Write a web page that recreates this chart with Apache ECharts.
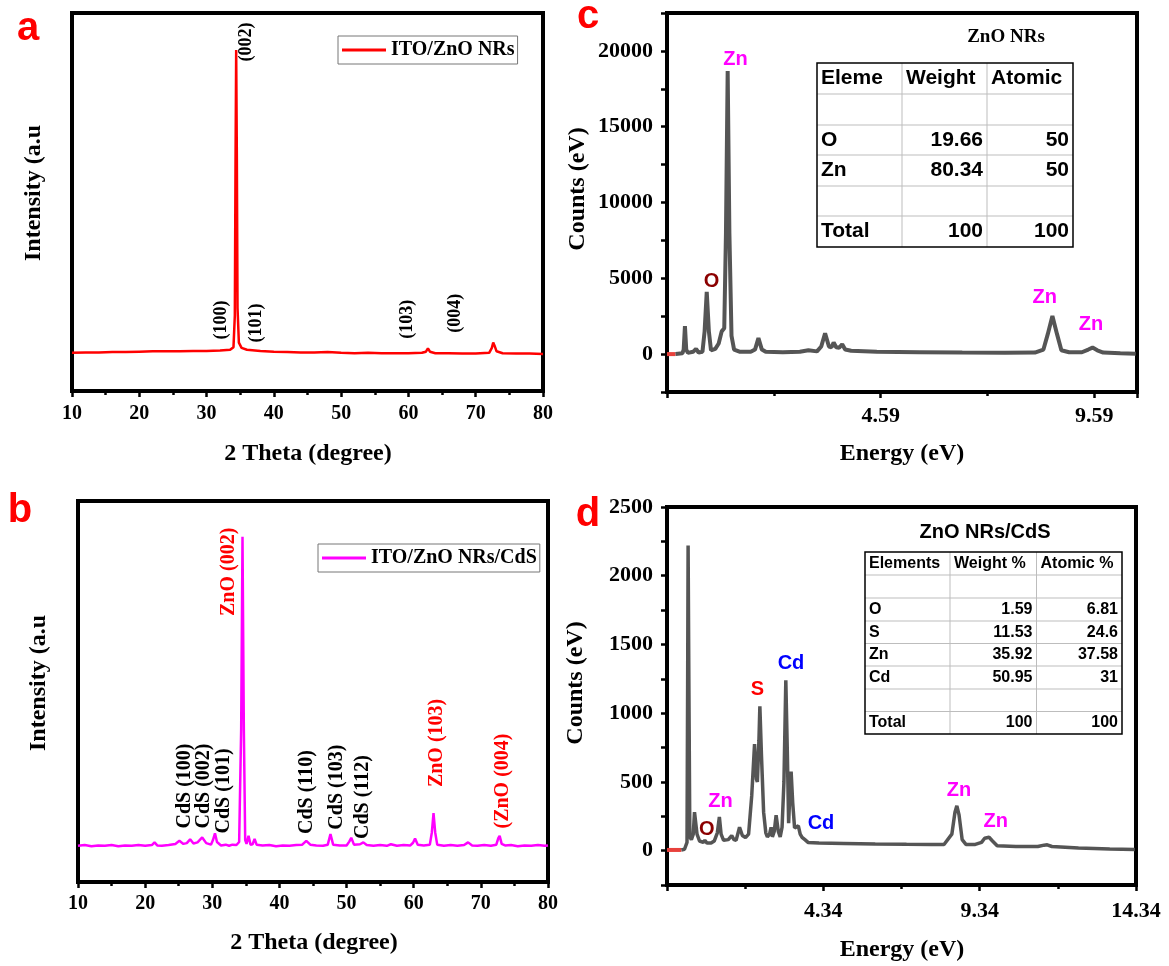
<!DOCTYPE html>
<html>
<head>
<meta charset="utf-8">
<script src="https://cdn.jsdelivr.net/npm/echarts@6/dist/echarts.min.js"></script>
<style>
html,body{margin:0;padding:0;background:#fff;}
#chart{width:1169px;height:966px;}
</style>
</head>
<body>
<div id="chart"></div>
<script>
// ---- data ----
// (a) XRD ITO/ZnO NRs : [2theta, intensity a.u.]
const xrdA = [[10,10.1],[12,10.2],[14,10.2],[16,10.3],[18,10.3],[20,10.4],[22,10.5],[24,10.5],[26,10.5],[28,10.6],[30,10.6],[32,10.7],
  [33.5,10.9],[34.0,11.6],[34.2,20],[34.3,60],[34.4,90.2],[34.5,62],[34.6,22],[34.8,12.8],[35.2,11.4],[36,10.9],[38,10.6],[40,10.4],
  [42,10.3],[44,10.2],[46,10.2],[48,10.3],[50,10.1],[52,10.0],[54,10.1],[56,10.0],[58,10.0],[60,10.0],[62,10.1],[62.6,10.4],
  [62.9,11.3],[63.2,10.4],[64,10.0],[66,10.0],[68,9.9],[70,9.9],[72,10.1],[72.4,11.4],[72.6,12.8],[72.8,12.0],[73.1,10.5],
  [74,10.0],[76,9.9],[78,9.9],[80,9.8]];
// (b) XRD ITO/ZnO NRs/CdS
const xrdB = [[10,9.5],[11,9.7],[12,9.4],[13,9.6],[14,9.5],[15,9.7],[16,9.4],[17,9.6],[18,9.5],[19,9.7],[20,9.5],[21,9.7],
  [21.4,10.4],[21.8,9.6],[22.5,9.5],[23.5,9.7],[24.5,10.0],[25.1,10.8],[25.7,10.0],[26.2,10.2],[26.7,11.2],[27.2,10.1],[27.8,10.4],
  [28.5,11.7],[29.1,10.2],[29.8,9.8],[30.1,11.0],[30.4,12.8],[30.7,10.5],[31.3,9.6],[32,9.8],[32.5,9.5],[33,9.8],[33.6,9.7],
  [34.0,10.5],[34.3,40],[34.5,90.6],[34.7,40],[34.9,11],[35.1,10.0],[35.4,12.1],[35.7,9.8],[36.0,9.9],[36.3,11.3],[36.6,9.8],
  [37.5,9.6],[38.5,9.7],[39.5,9.4],[40.5,9.6],[41.5,9.5],[42.5,9.7],[43.4,9.8],[44.0,10.8],[44.6,9.8],[45.5,9.6],[46.5,9.5],
  [47.2,9.8],[47.6,12.6],[48.0,9.8],[49,9.6],[50.0,9.6],[50.4,10.6],[50.7,11.6],[51.1,9.8],[52.0,9.9],[52.5,10.4],[53.0,9.7],
  [54,9.5],[55,9.7],[56,9.5],[56.6,9.9],[57.5,9.5],[58.5,9.7],[59.5,9.6],[59.9,10.3],[60.2,11.4],[60.6,9.8],[61.5,9.6],[62.4,9.8],
  [62.7,13],[62.95,18.1],[63.2,13],[63.5,9.8],[64.5,9.5],[65.5,9.7],[66.5,9.5],[67.5,9.7],[68.1,10.4],[68.7,9.6],[69.5,9.5],
  [70.5,9.7],[71.5,9.5],[72.3,9.8],[72.6,11.5],[72.8,12.1],[73.1,10.0],[73.6,9.6],[74.5,9.7],[75.5,9.4],[76.5,9.6],[77.5,9.5],
  [78.5,9.7],[79.5,9.5],[80,9.6]];
// (c) EDX ZnO NRs : [energy, counts]
const edxCStart = [[-0.41,0],[-0.21,0]];
const edxC = [[-0.21,0],[-0.05,50],[-0.02,300],[0.01,1850],[0.04,300],[0.08,80],[0.2,150],[0.27,350],[0.33,100],[0.42,150],
  [0.47,1500],[0.52,4100],[0.57,1500],[0.62,250],[0.72,350],[0.8,700],[0.87,1500],[0.93,1700],[0.97,8000],[1.01,18680],
  [1.05,8000],[1.1,1200],[1.16,300],[1.3,150],[1.55,150],[1.65,300],[1.73,1050],[1.81,300],[1.9,150],[2.3,120],[2.7,150],
  [2.9,250],[3.1,180],[3.2,500],[3.29,1380],[3.38,500],[3.44,450],[3.49,760],[3.55,450],[3.62,420],[3.69,650],[3.76,300],
  [3.9,220],[4.5,160],[5.5,130],[6.5,100],[7.5,90],[8.2,100],[8.4,300],[8.5,1300],[8.61,2520],[8.72,1300],[8.82,250],
  [9.0,120],[9.3,120],[9.45,300],[9.55,430],[9.66,250],[9.8,100],[10.2,60],[10.56,30]];
// (d) EDX ZnO NRs/CdS
const edxDStart = [[-0.66,5],[-0.2,5]];
const edxD = [[-0.2,5],[-0.1,10],[-0.02,60],[0.0,1200],[0.015,2220],[0.04,1200],[0.07,100],[0.12,80],[0.18,120],[0.22,280],
  [0.26,290],[0.3,120],[0.38,70],[0.5,60],[0.55,75],[0.62,55],[0.75,55],[0.85,70],[0.95,130],[1.015,245],[1.07,120],[1.15,75],
  [1.3,80],[1.41,110],[1.48,80],[1.55,75],[1.66,170],[1.75,110],[1.85,95],[1.95,120],[2.05,400],[2.14,775],[2.2,520],[2.23,500],
  [2.28,800],[2.31,1050],[2.36,700],[2.43,280],[2.5,130],[2.55,100],[2.62,120],[2.67,170],[2.71,100],[2.77,140],[2.83,258],
  [2.9,140],[2.96,100],[3.02,170],[3.08,500],[3.14,1240],[3.19,700],[3.23,200],[3.27,420],[3.31,575],[3.36,350],[3.42,165],
  [3.48,160],[3.54,180],[3.6,120],[3.66,97],[3.75,80],[3.85,60],[4.2,55],[5,52],[6,48],[7,46],[7.8,45],[8.2,45],[8.45,120],
  [8.55,280],[8.61,326],[8.68,260],[8.78,80],[8.9,45],[9.2,45],[9.4,60],[9.5,90],[9.64,97],[9.75,70],[9.9,35],[10.5,30],
  [11.2,30],[11.4,40],[11.5,42],[11.65,30],[12.5,20],[13.5,12],[14.3,8]];

// tick labels
const thetaTicks = ['10','20','30','40','50','60','70','80'];
const cEnergyTicks = ['4.59','9.59'];
const dEnergyTicks = ['4.34','9.34','14.34'];
const cCountTicks = ['0','5000','10000','15000','20000'];
const dCountTicks = ['0','500','1000','1500','2000','2500'];

// peak annotations [text, x, y] in data units
const aPeakLabels = [['(002)',35.86,92.3],['(100)',32.14,18.8],['(101)',37.34,18.0],['(103)',59.79,19.0],['(004)',66.92,20.6]];
const bZnoLabels = [['ZnO (002)',32.43,81.4],['ZnO (103)',63.4,36.5],['(ZnO (004)',73.3,26.5]];
const bCdsLabels = [['CdS (100)',25.94,25.2],['CdS (002)',28.77,25.2],['CdS (101)',31.75,23.9],
  ['CdS (110)',44.1,23.6],['CdS (103)',48.6,24.9],['CdS (112)',52.4,22.3]];
const cElementLabels = [['O',0.631,4822],['Zn',1.193,19466],['Zn',8.429,3766],['Zn',9.513,1985]];
const dElementLabels = [['Zn',1.048,356],['O',0.613,157],['S',2.228,1169],['Cd',3.305,1358],['Cd',4.265,201],
  ['Zn',8.678,436],['Zn',9.852,211]];

// composition tables
const cTableHead = ['Eleme','Weight','Atomic'];
const cTableRows = [['','',''],['O','19.66','50'],['Zn','80.34','50'],['','',''],['Total','100','100']];
const dTableHead = ['Elements','Weight %','Atomic %'];
const dTableRows = [['','',''],['O','1.59','6.81'],['S','11.53','24.6'],['Zn','35.92','37.58'],['Cd','50.95','31'],
  ['','',''],['Total','100','100']];

// ---- chart ----
const SERIF = 'Liberation Serif';
const SANS = 'Liberation Sans';
const elemColor = {O:'#8b0000', Zn:'#ff00ff', S:'#ff0000', Cd:'#0000ff'};

const chart = echarts.init(document.getElementById('chart'));

function pick(labels){
  return v => {
    const s = labels.find(l => Math.abs(parseFloat(l) - v) < 1e-6);
    return s === undefined ? '' : s;
  };
}

function xAxisOf(grid, min, max, interval, labels, size, margin){
  return {
    type:'value', gridIndex:grid, min:min, max:max, interval:interval,
    axisLine:{show:true, onZero:false, lineStyle:{color:'#000', width:4}},
    axisTick:{show:true, inside:false, length:6, lineStyle:{color:'#000', width:2.5}},
    minorTick:{show:true, splitNumber:2, length:4, lineStyle:{color:'#000', width:2.5}},
    splitLine:{show:false}, minorSplitLine:{show:false},
    axisLabel:{show:true, margin:margin, color:'#000', fontFamily:SERIF, fontWeight:'bold', fontSize:size,
      showMinLabel:true, showMaxLabel:true, formatter:pick(labels)}
  };
}

function yAxisOf(grid, min, max, interval, labels){
  const shown = labels.length > 0;
  return {
    type:'value', gridIndex:grid, min:min, max:max, interval:interval,
    axisLine:{show:true, onZero:false, lineStyle:{color:'#000', width:4}},
    axisTick:{show:shown, inside:false, length:6, lineStyle:{color:'#000', width:2.5}},
    splitLine:{show:false},
    axisLabel:{show:shown, margin:14, color:'#000', fontFamily:SERIF, fontWeight:'bold', fontSize:22,
      showMinLabel:true, showMaxLabel:true, formatter:pick(labels)}
  };
}

function txt(text, x, y, font, size, color, rot, align){
  const a = align || 'center';
  return {type:'text', x:x, y:y, rotation:rot || 0, silent:true,
    style:{text:text, fill:color, fontFamily:font, fontWeight:'bold', fontSize:size,
      align:a, verticalAlign:'middle', textAlign:a, textVerticalAlign:'middle'}};
}

function seg(x1, y1, x2, y2, color, w){
  return {type:'line', silent:true, shape:{x1:x1, y1:y1, x2:x2, y2:y2}, style:{stroke:color, lineWidth:w}};
}

function tableEls(cols, rowsY, head, rows, size){
  const els = [];
  const x0 = cols[0], x1 = cols[cols.length - 1], y0 = rowsY[0], y1 = rowsY[rowsY.length - 1];
  for (let i = 1; i < rowsY.length - 1; i++) els.push(seg(x0, rowsY[i], x1, rowsY[i], '#bdbdbd', 1));
  for (let j = 1; j < cols.length - 1; j++) els.push(seg(cols[j], y0, cols[j], y1, '#bdbdbd', 1));
  els.push({type:'rect', silent:true, shape:{x:x0, y:y0, width:x1 - x0, height:y1 - y0},
    style:{fill:'none', stroke:'#000', lineWidth:1.5}});
  [head].concat(rows).forEach((r, i) => {
    const cy = (rowsY[i] + rowsY[i + 1]) / 2;
    r.forEach((t, j) => {
      if (!t) return;
      const left = i === 0 || j === 0;
      els.push(txt(t, left ? cols[j] + 4 : cols[j + 1] - 4, cy, SANS, size, '#000', 0, left ? 'left' : 'right'));
    });
  });
  return els;
}

function lineSeries(name, x, data, color, width){
  return {type:'line', name:name, xAxisIndex:x, yAxisIndex:x, data:data, symbol:'none', showSymbol:false,
    lineStyle:{color:color, width:width}, itemStyle:{color:color}, z:3};
}

const staticEls = [
  txt('a', 28, 29, SANS, 40, '#ff0000'),
  txt('b', 20, 511, SANS, 40, '#ff0000'),
  txt('c', 588, 17, SANS, 40, '#ff0000'),
  txt('d', 588, 515, SANS, 40, '#ff0000'),
  txt('2 Theta (degree)', 308, 454, SERIF, 24, '#000'),
  txt('2 Theta (degree)', 314, 943, SERIF, 24, '#000'),
  txt('Energy (eV)', 902, 454, SERIF, 24, '#000'),
  txt('Energy (eV)', 902, 950, SERIF, 24, '#000'),
  txt('Intensity (a.u', 34, 193, SERIF, 24, '#000', Math.PI / 2),
  txt('Intensity (a.u', 39, 683, SERIF, 24, '#000', Math.PI / 2),
  txt('Counts (eV)', 578, 189, SERIF, 24, '#000', Math.PI / 2),
  txt('Counts (eV)', 576, 683, SERIF, 24, '#000', Math.PI / 2),
  txt('ZnO NRs', 1006, 37, SERIF, 19, '#000'),
  txt('ZnO NRs/CdS', 985, 532, SANS, 20, '#000')
].concat(
  tableEls([817, 902, 987, 1073], [63, 94, 125, 155, 186, 216, 247], cTableHead, cTableRows, 21),
  tableEls([865, 950, 1036.5, 1122], [552, 575, 598, 621, 643.5, 666, 689, 711.5, 734], dTableHead, dTableRows, 16)
);

const legendBase = {orient:'horizontal', icon:'rect', itemWidth:44, itemHeight:3, selectedMode:false,
  borderColor:'#777', borderWidth:1, padding:[4, 3, 4, 4],
  textStyle:{fontFamily:SERIF, fontWeight:'bold', fontSize:20, color:'#000'}};

chart.setOption({
  animation:false,
  backgroundColor:'#fff',
  grid:[
    {left:72, top:13, width:471, height:378, show:true, borderColor:'#000', borderWidth:4, backgroundColor:'transparent'},
    {left:78, top:501, width:470, height:381, show:true, borderColor:'#000', borderWidth:4, backgroundColor:'transparent'},
    {left:667, top:13, width:470, height:379, show:true, borderColor:'#000', borderWidth:4, backgroundColor:'transparent'},
    {left:667, top:507, width:469, height:378, show:true, borderColor:'#000', borderWidth:4, backgroundColor:'transparent'}
  ],
  xAxis:[
    xAxisOf(0, 10, 80, 10, thetaTicks, 20, 13),
    xAxisOf(1, 10, 80, 10, thetaTicks, 20, 12),
    xAxisOf(2, -0.41, 10.59, 5, cEnergyTicks, 22, 13),
    xAxisOf(3, -0.66, 14.34, 5, dEnergyTicks, 22, 15)
  ],
  yAxis:[
    yAxisOf(0, 0, 100, 10, []),
    yAxisOf(1, 0, 100, 10, []),
    yAxisOf(2, -2500, 22500, 2500, cCountTicks),
    yAxisOf(3, -250, 2500, 250, dCountTicks)
  ],
  legend:[
    Object.assign({}, legendBase, {data:['ITO/ZnO NRs'], left:338, top:36}),
    Object.assign({}, legendBase, {data:['ITO/ZnO NRs/CdS'], left:318, top:544})
  ],
  series:[
    lineSeries('ITO/ZnO NRs', 0, xrdA, '#ff0000', 2.5),
    lineSeries('ITO/ZnO NRs/CdS', 1, xrdB, '#ff00ff', 2.5),
    lineSeries('c start', 2, edxCStart, '#e8413c', 4),
    lineSeries('ZnO NRs', 2, edxC, '#555555', 4),
    lineSeries('d start', 3, edxDStart, '#e8413c', 4),
    lineSeries('ZnO NRs/CdS', 3, edxD, '#555555', 3.5)
  ],
  graphic:{elements:staticEls}
});

// place the peak annotations through the axes' own scales
const ann = [];
function place(list, grid, font, size, colorOf, rot){
  list.forEach(([t, x, y]) => {
    const p = chart.convertToPixel({gridIndex:grid}, [x, y]);
    ann.push(txt(t, p[0], p[1], font, size, colorOf(t), rot));
  });
}
place(aPeakLabels, 0, SERIF, 18, () => '#000', Math.PI / 2);
place(bZnoLabels, 1, SERIF, 20, () => '#ff0000', Math.PI / 2);
place(bCdsLabels, 1, SERIF, 20, () => '#000', Math.PI / 2);
place(cElementLabels, 2, SANS, 20, t => elemColor[t], 0);
place(dElementLabels, 3, SANS, 20, t => elemColor[t], 0);

chart.setOption({graphic:{elements:staticEls.concat(ann)}});
</script>
</body>
</html>
